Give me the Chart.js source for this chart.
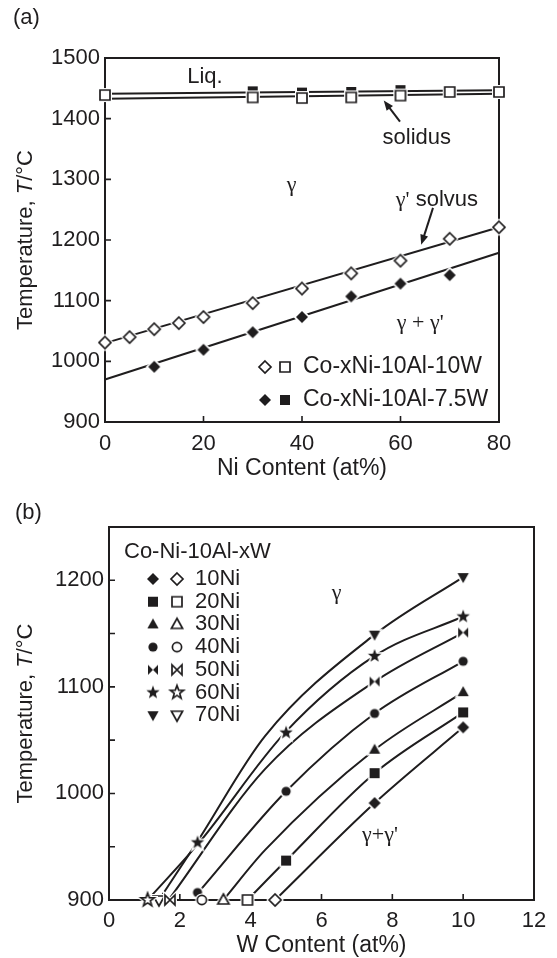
<!DOCTYPE html>
<html>
<head>
<meta charset="utf-8">
<script src="https://cdn.jsdelivr.net/npm/chart.js@4"></script>
<style>
  html, body { margin: 0; padding: 0; background: #fff; }
  #wrap { position: relative; width: 557px; height: 958px; }
  canvas { position: absolute; left: 0; }
</style>
</head>
<body>
<div id="wrap">
  <canvas id="chartA" width="557" height="480" style="top:0"></canvas>
  <canvas id="chartB" width="557" height="478" style="top:480px"></canvas>
</div>
<script>
// ---- (a) temperature vs Ni content ----
const niContent = [0, 5, 10, 15, 20, 30, 40, 50, 60, 70, 80];
const solvus10W = [1031, 1040, 1053, 1063, 1073, 1096, 1120, 1145, 1166, 1202, 1221];
const niContent75W = [10, 20, 30, 40, 50, 60, 70];
const solvus75W = [991, 1019, 1048, 1073, 1107, 1128, 1142];
const meltNi10W = [0, 30, 40, 50, 60, 70, 80];
const melt10W = [1439, 1435, 1434, 1435, 1438, 1444, 1444];
const meltNi75W = [30, 40, 50, 60];
const melt75W = [1445, 1443, 1444, 1447];
// fitted lines (ends)
const fitNi = [0, 80];
const fit10W = [1030, 1221];
const fit75W = [970, 1179];
const liquidus = [1441, 1447];
const solidus = [1433, 1441];

// ---- (b) temperature vs W content ----
const niLabels = ['10Ni', '20Ni', '30Ni', '40Ni', '50Ni', '60Ni', '70Ni'];
const niShapes = ['diamond', 'square', 'tri', 'circle', 'bowtie', 'star', 'tridown'];
const measuredW = [[7.5, 10], [5, 7.5, 10], [7.5, 10], [2.5, 5, 7.5, 10], [7.5, 10], [2.5, 5, 7.5, 10], [7.5, 10]];
const measuredT = [[991, 1062], [937, 1019, 1076], [1041, 1095], [907, 1002, 1075, 1124], [1105, 1151], [954, 1057, 1129, 1166], [1149, 1203]];
const onsetW = [4.69, 3.91, 3.23, 2.62, 1.72, 1.09, 1.41];
const curveW = [[4.69, 7.5, 10], [3.91, 5, 7.5, 10], [3.23, 4.41, 7.5, 10], [2.52, 5, 7.5, 10], [1.68, 4.41, 7.5, 10], [1.09, 2.55, 4.97, 7.5, 10], [1.41, 2.5, 4.41, 7.5, 10]];
const curveT = [[900, 991, 1062], [900, 937, 1019, 1076], [900, 947, 1041, 1095], [907, 1002, 1075, 1124], [900, 1023, 1105, 1151], [900, 954, 1057, 1129, 1166], [900, 955, 1054, 1149, 1203]];

const ink = '#1f1d1e';
const SANS = "'Liberation Sans', Arial, sans-serif";
const SERIF = "'Liberation Serif', 'Times New Roman', serif";

const pts = (xs, ys) => xs.map((x, i) => ({x: x, y: ys[i]}));

function shapePath(g, shape) {
  g.beginPath();
  if (shape === 'diamond') {
    g.moveTo(0, -6); g.lineTo(6, 0); g.lineTo(0, 6); g.lineTo(-6, 0); g.closePath();
  } else if (shape === 'square') {
    g.rect(-5, -5, 10, 10);
  } else if (shape === 'tri') {
    g.moveTo(0, -6); g.lineTo(5.6, 4); g.lineTo(-5.6, 4); g.closePath();
  } else if (shape === 'tridown') {
    g.moveTo(0, 6); g.lineTo(5.6, -4); g.lineTo(-5.6, -4); g.closePath();
  } else if (shape === 'circle') {
    g.arc(0, 0, 4.6, 0, Math.PI * 2);
  } else if (shape === 'bowtie') {
    g.moveTo(-5, -5); g.lineTo(0, 0); g.lineTo(-5, 5); g.closePath();
    g.moveTo(5, -5); g.lineTo(0, 0); g.lineTo(5, 5); g.closePath();
  } else if (shape === 'star') {
    for (let i = 0; i < 10; i++) {
      const r = i % 2 ? 2.9 : 7;
      const a = -Math.PI / 2 + i * Math.PI / 5;
      i ? g.lineTo(r * Math.cos(a), r * Math.sin(a)) : g.moveTo(r * Math.cos(a), r * Math.sin(a));
    }
    g.closePath();
  }
}

function marker(shape, filled) {
  const c = document.createElement('canvas');
  c.width = 20; c.height = 20;
  const g = c.getContext('2d');
  g.translate(10, 10);
  g.lineJoin = 'miter';
  shapePath(g, shape);
  if (filled) {
    g.strokeStyle = '#fff'; g.lineWidth = 3.5; g.stroke();
    g.fillStyle = ink; g.fill();
  } else {
    g.strokeStyle = '#fff'; g.lineWidth = 4; g.stroke();
    g.fillStyle = '#fff'; g.fill();
    g.strokeStyle = ink; g.lineWidth = 1.7; g.stroke();
  }
  return c;
}

function frame(chart, xt, yt) {
  const {ctx, chartArea: a, scales: {x, y}} = chart;
  ctx.save();
  ctx.strokeStyle = ink;
  ctx.lineWidth = 2;
  ctx.strokeRect(a.left, a.top, a.right - a.left, a.bottom - a.top);
  ctx.lineWidth = 1.6;
  ctx.beginPath();
  xt.forEach(v => { const px = x.getPixelForValue(v); ctx.moveTo(px, a.bottom); ctx.lineTo(px, a.bottom - 6); });
  yt.forEach(v => { const py = y.getPixelForValue(v); ctx.moveTo(a.left, py); ctx.lineTo(a.left + 6, py); });
  ctx.stroke();
  ctx.restore();
}

function text(ctx, s, x, y, font, align) {
  ctx.font = font;
  ctx.fillStyle = ink;
  ctx.textAlign = align || 'center';
  ctx.textBaseline = 'middle';
  ctx.fillText(s, x, y);
}

// draw pieces of mixed-font text centred on x
function mixed(ctx, pieces, x, y) {
  let w = 0;
  pieces.forEach(p => { ctx.font = p[1]; w += ctx.measureText(p[0]).width; });
  let cx = x - w / 2;
  pieces.forEach(p => { text(ctx, p[0], cx, y, p[1], 'left'); ctx.font = p[1]; cx += ctx.measureText(p[0]).width; });
}

function yTitle(ctx, x, y) {
  ctx.save();
  ctx.translate(x, y);
  ctx.rotate(-Math.PI / 2);
  mixed(ctx, [['Temperature, ', '22px ' + SANS], ['T', 'italic 22px ' + SANS], ['/°C', '22px ' + SANS]], 0, 0);
  ctx.restore();
}

function arrow(ctx, x1, y1, x2, y2) {
  const ang = Math.atan2(y2 - y1, x2 - x1);
  ctx.save();
  ctx.strokeStyle = ink; ctx.fillStyle = ink; ctx.lineWidth = 2;
  ctx.beginPath();
  ctx.moveTo(x1, y1);
  ctx.lineTo(x2 - 6 * Math.cos(ang), y2 - 6 * Math.sin(ang));
  ctx.stroke();
  ctx.beginPath();
  ctx.moveTo(x2, y2);
  ctx.lineTo(x2 - 10 * Math.cos(ang) + 4 * Math.sin(ang), y2 - 10 * Math.sin(ang) - 4 * Math.cos(ang));
  ctx.lineTo(x2 - 10 * Math.cos(ang) - 4 * Math.sin(ang), y2 - 10 * Math.sin(ang) + 4 * Math.cos(ang));
  ctx.closePath();
  ctx.fill();
  ctx.restore();
}

const tickFont = {family: SANS, size: 22};

function axisOpts(min, max, step, pad, fitSize, horizontal, cb) {
  return {
    type: 'linear', min: min, max: max,
    grid: {display: false},
    border: {display: false},
    ticks: {stepSize: step, color: ink, font: tickFont, padding: pad, callback: cb || (v => v)},
    afterFit: s => { if (horizontal) s.height = fitSize; else s.width = fitSize; }
  };
}

const lineDs = (xs, ys, extra) => Object.assign({
  data: pts(xs, ys), showLine: true, borderColor: ink, borderWidth: 2,
  pointRadius: 0, clip: false, order: 5
}, extra || {});

const markDs = (xs, ys, shape, filled) => ({
  data: pts(xs, ys), pointStyle: marker(shape, filled), pointRadius: 6,
  clip: false, order: filled ? 2 : 1
});

// ---------- chart (a) ----------
const decorA = {
  id: 'decorA',
  beforeDatasetsDraw(chart) { frame(chart, [20, 40, 60], [1000, 1100, 1200, 1300, 1400]); },
  afterDraw(chart) {
    const {ctx, chartArea: a, scales: {x, y}} = chart;
    const X = v => x.getPixelForValue(v), Y = v => y.getPixelForValue(v);
    const sans = '22px ' + SANS, serif = '22px ' + SERIF;
    text(ctx, '(a)', 13, 18, sans, 'left');
    text(ctx, 'Liq.', X(20.3), Y(1469), sans);
    text(ctx, 'solidus', X(63.3), Y(1368), sans);
    arrow(ctx, X(59.9), Y(1395), X(56.6), Y(1430));
    text(ctx, 'γ', X(37.9), Y(1291), serif);
    mixed(ctx, [["γ'", serif], [' solvus', sans]], X(67.4), Y(1266));
    arrow(ctx, X(66.6), Y(1253), X(64.2), Y(1192));
    text(ctx, "γ + γ'", X(64), Y(1063), serif);
    // legend
    const rows = [[367, false, 'Co-xNi-10Al-10W'], [400, true, 'Co-xNi-10Al-7.5W']];
    rows.forEach(r => {
      ctx.drawImage(marker('diamond', r[1]), 265 - 10, r[0] - 10);
      ctx.drawImage(marker('square', r[1]), 285 - 10, r[0] - 10);
      text(ctx, r[2], 303, r[0], '23px ' + SANS, 'left');
    });
    text(ctx, 'Ni Content (at%)', (a.left + a.right) / 2, 469, '23px ' + SANS);
    yTitle(ctx, 26, (a.top + a.bottom) / 2);
  }
};

new Chart(document.getElementById('chartA'), {
  type: 'scatter',
  data: {
    datasets: [
      lineDs(fitNi, fit10W),
      lineDs(fitNi, fit75W),
      lineDs(fitNi, liquidus),
      lineDs(fitNi, solidus),
      markDs(niContent75W, solvus75W, 'diamond', true),
      markDs(niContent, solvus10W, 'diamond', false),
      markDs(meltNi75W, melt75W, 'square', true),
      markDs(meltNi10W, melt10W, 'square', false)
    ]
  },
  options: {
    responsive: false, animation: false, devicePixelRatio: 1, events: [],
    layout: {padding: {top: 58, right: 58, left: 0, bottom: 0}},
    plugins: {legend: {display: false}, tooltip: {enabled: false}},
    scales: {
      x: axisOpts(0, 80, 20, 1, 58, true),
      y: axisOpts(900, 1500, 100, -3, 105, false)
    }
  },
  plugins: [decorA]
});

// ---------- chart (b) ----------
const decorB = {
  id: 'decorB',
  beforeDatasetsDraw(chart) { frame(chart, [2, 4, 6, 8, 10], [950, 1000, 1050, 1100, 1150, 1200]); },
  afterDraw(chart) {
    const {ctx, chartArea: a, scales: {x, y}} = chart;
    const X = v => x.getPixelForValue(v), Y = v => y.getPixelForValue(v);
    const sans = '22px ' + SANS, serif = '22px ' + SERIF;
    text(ctx, '(b)', 15, 33, sans, 'left');
    text(ctx, 'γ', X(6.43), Y(1188), serif);
    text(ctx, "γ+γ'", X(7.65), Y(961), serif);
    text(ctx, 'Co-Ni-10Al-xW', 124, 72, sans, 'left');
    niLabels.forEach((lab, i) => {
      const ry = 99 + i * 22.7;
      ctx.drawImage(marker(niShapes[i], true), 153 - 10, ry - 10);
      ctx.drawImage(marker(niShapes[i], false), 177 - 10, ry - 10);
      text(ctx, lab, 195, ry, sans, 'left');
    });
    text(ctx, 'W Content (at%)', (a.left + a.right) / 2, 466, '23px ' + SANS);
    yTitle(ctx, 26, (a.top + a.bottom) / 2);
  }
};

const dsB = [];
niLabels.forEach((lab, i) => {
  dsB.push(lineDs(curveW[i], curveT[i], {cubicInterpolationMode: 'monotone'}));
  dsB.push(markDs(measuredW[i], measuredT[i], niShapes[i], true));
  dsB.push(markDs([onsetW[i]], [900], niShapes[i], false));
});

new Chart(document.getElementById('chartB'), {
  type: 'scatter',
  data: {datasets: dsB},
  options: {
    responsive: false, animation: false, devicePixelRatio: 1, events: [],
    layout: {padding: {top: 47, right: 23, left: 0, bottom: 0}},
    plugins: {legend: {display: false}, tooltip: {enabled: false}},
    scales: {
      x: axisOpts(0, 12, 2, 0, 58, true),
      y: axisOpts(900, 1250, 50, -3, 109, false, v => (v % 100 === 0 ? v : ''))
    }
  },
  plugins: [decorB]
});
</script>
</body>
</html>
